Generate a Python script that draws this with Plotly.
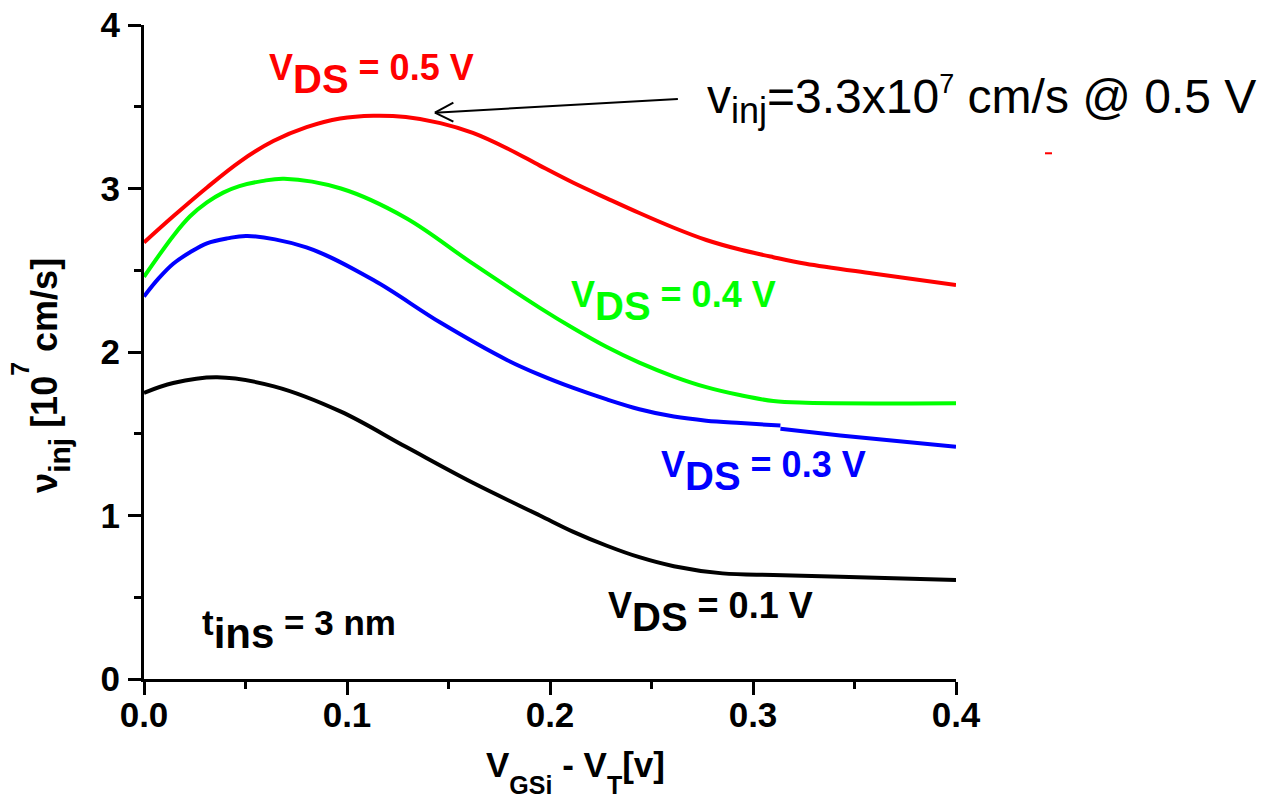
import plotly.graph_objects as go

# ---------------- data ----------------
x_tickvals = [0.0, 0.1, 0.2, 0.3, 0.4]
x_ticktext = ["0.0", "0.1", "0.2", "0.3", "0.4"]
y_tickvals = [0, 1, 2, 3, 4]
y_ticktext = ["0", "1", "2", "3", "4"]

vgs_05 = [0.0, 0.0144, 0.0309, 0.0473, 0.0637, 0.0801, 0.0966, 0.113, 0.129, 0.146, 0.162, 0.179,
          0.195, 0.2115, 0.228, 0.244, 0.261, 0.277, 0.294, 0.310, 0.326, 0.359, 0.4]
vinj_05 = [2.67, 2.83, 3.005, 3.165, 3.29, 3.375, 3.428, 3.445, 3.437, 3.40, 3.34, 3.245,
           3.14, 3.035, 2.94, 2.85, 2.76, 2.685, 2.625, 2.58, 2.54, 2.48, 2.41]

vgs_04 = [0.0, 0.0144, 0.0227, 0.031, 0.039, 0.047, 0.058, 0.069, 0.097, 0.129, 0.162, 0.195,
          0.2115, 0.228, 0.244, 0.261, 0.277, 0.294, 0.310, 0.326, 0.4]
vinj_04 = [2.46, 2.71, 2.83, 2.915, 2.975, 3.015, 3.045, 3.06, 3.00, 2.82, 2.54, 2.27,
           2.145, 2.03, 1.935, 1.85, 1.785, 1.735, 1.70, 1.69, 1.686]

vgs_03 = [0.0, 0.0072, 0.0144, 0.0227, 0.031, 0.041, 0.051, 0.080, 0.113, 0.146, 0.179, 0.195,
          0.2115, 0.228, 0.244, 0.261, 0.277, 0.294, 0.3135, None, 0.3135, 0.343, 0.4]
vinj_03 = [2.34, 2.45, 2.54, 2.61, 2.665, 2.695, 2.71, 2.64, 2.44, 2.18, 1.95, 1.86,
           1.78, 1.71, 1.65, 1.605, 1.58, 1.565, 1.55, None, 1.53, 1.49, 1.42]

vgs_01 = [0.0, 0.0144, 0.036, 0.064, 0.097, 0.129, 0.162, 0.195, 0.2115, 0.228, 0.244,
          0.261, 0.285, 0.310, 0.343, 0.4]
vinj_01 = [1.75, 1.81, 1.845, 1.79, 1.635, 1.42, 1.20, 1.00, 0.90, 0.815, 0.745,
           0.69, 0.646, 0.636, 0.626, 0.605]

series_x = [vgs_05, vgs_04, vgs_03, vgs_01]
series_y = [vinj_05, vinj_04, vinj_03, vinj_01]
series_colors = ["#ff0000", "#00ff00", "#0000ff", "#000000"]

label_values = ["0.5", "0.4", "0.3", "0.1"]
label_x = [0.1123, 0.261, 0.305, 0.279]
label_y = [3.70, 2.31, 1.27, 0.41]

# ---------------- styling ----------------
FONT = "Liberation Sans, Arial, Helvetica, sans-serif"
M = 36   # main text size of curve labels
S = 40   # subscript size of curve labels

fig = go.Figure()
for xs, ys, c in zip(series_x, series_y, series_colors):
    fig.add_trace(go.Scatter(x=xs, y=ys, mode="lines", connectgaps=False,
                             line=dict(color=c, width=4, shape="spline", smoothing=1.0),
                             showlegend=False, hoverinfo="skip"))

axis_common = dict(ticks="outside", ticklen=13, tickwidth=3, tickcolor="black",
                   showline=True, linewidth=3, linecolor="black", showgrid=False,
                   zeroline=False, fixedrange=True, ticklabeloverflow="allow",
                   tickfont=dict(family=FONT, size=35, color="black", weight="bold"))

fig.update_xaxes(range=[0, 0.4], tickmode="array", tickvals=x_tickvals, ticktext=x_ticktext,
                 ticklabelstandoff=-10,
                 minor=dict(ticks="outside", ticklen=7, tickwidth=3, tickcolor="black",
                            tick0=0, dtick=0.05, showgrid=False),
                 **axis_common)
fig.update_yaxes(range=[0, 4], tickmode="array", tickvals=y_tickvals, ticktext=y_ticktext,
                 ticklabelstandoff=1,
                 minor=dict(ticks="outside", ticklen=7, tickwidth=3, tickcolor="black",
                            tick0=0, dtick=0.5, showgrid=False),
                 **axis_common)

annotations = []
for val, lx, ly, c in zip(label_values, label_x, label_y, series_colors):
    txt = (f"<span style='font-size:{M}px'>V</span><sub><span style='font-size:{S}px'>DS</span></sub>"
           f"<span style='font-size:{M}px'> = {val} V</span>")
    annotations.append(dict(x=lx, y=ly, xref="x", yref="y", text=txt, showarrow=False,
                            xanchor="center", yanchor="middle",
                            font=dict(family=FONT, size=62, color=c, weight="bold")))

# t_ins label
annotations.append(dict(x=0.0764, y=0.30, xref="x", yref="y", showarrow=False,
                        xanchor="center", yanchor="middle",
                        text="<span style='font-size:35px'>t</span><sub><span style='font-size:42px'>ins</span></sub>"
                             "<span style='font-size:35px'> = 3 nm</span>",
                        font=dict(family=FONT, size=62, color="black", weight="bold")))

# injection velocity note
annotations.append(dict(x=0.691, y=0.885, xref="paper", yref="paper", showarrow=False,
                        xanchor="left", yanchor="middle",
                        text="v<sub><span style='font-size:36px'>inj</span></sub>=3.3x10"
                             "<sup><span style='font-size:27px'>7</span></sup> cm/s @ 0.5 V",
                        font=dict(family=FONT, size=48, color="black")))

# axis titles
annotations.append(dict(x=0.5308, y=-0.142, xref="paper", yref="paper", showarrow=False,
                        xanchor="center", yanchor="middle",
                        text="<span style='font-size:35px'>V</span><sub><span style='font-size:25px'>GSi</span></sub>"
                             "<span style='font-size:35px'> - V</span><sub><span style='font-size:25px'>T</span></sub>"
                             "<span style='font-size:35px'>[v]</span>",
                        font=dict(family=FONT, size=80, color="black", weight="bold")))
annotations.append(dict(x=-0.127, y=0.4648, xref="paper", yref="paper", showarrow=False,
                        xanchor="center", yanchor="middle", textangle=-90,
                        text="<span style='font-size:36px'>ν</span><sub><span style='font-size:30px'>inj</span></sub>"
                             "<span style='font-size:36px'> [10</span><sup><span style='font-size:25px'>7</span></sup>"
                             "<span style='font-size:36px'> cm/s]</span>",
                        font=dict(family=FONT, size=66, color="black", weight="bold")))

# arrow (line + open head) pointing at the 0.5 V peak
arrow_tip = (0.1433, 3.464)
arrow_tail = (0.263, 3.547)
arrow_arm_x = 0.1524
arrow_arm_y = (3.525, 3.409)
shapes = [
    dict(type="line", xref="x", yref="y", x0=arrow_tail[0], y0=arrow_tail[1],
         x1=arrow_tip[0], y1=arrow_tip[1], line=dict(color="black", width=2)),
    dict(type="line", xref="x", yref="y", x0=arrow_tip[0], y0=arrow_tip[1],
         x1=arrow_arm_x, y1=arrow_arm_y[0], line=dict(color="black", width=2)),
    dict(type="line", xref="x", yref="y", x0=arrow_tip[0], y0=arrow_tip[1],
         x1=arrow_arm_x, y1=arrow_arm_y[1], line=dict(color="black", width=2)),
    # small stray red mark present in the original
    dict(type="rect", xref="paper", yref="paper", x0=1.1096, x1=1.1182, y0=0.8023, y1=0.8054,
         fillcolor="#ff0000", line=dict(width=0)),
]

# the page body adds an 8 px margin, so the figure is 8 px smaller and margins shifted
fig.update_layout(width=1260, height=789,
                  margin=dict(l=136, r=312, t=17, b=118, autoexpand=False),
                  plot_bgcolor="white", paper_bgcolor="white", showlegend=False,
                  annotations=annotations, shapes=shapes)

fig.write_html("out.html", config={"displayModeBar": False})
